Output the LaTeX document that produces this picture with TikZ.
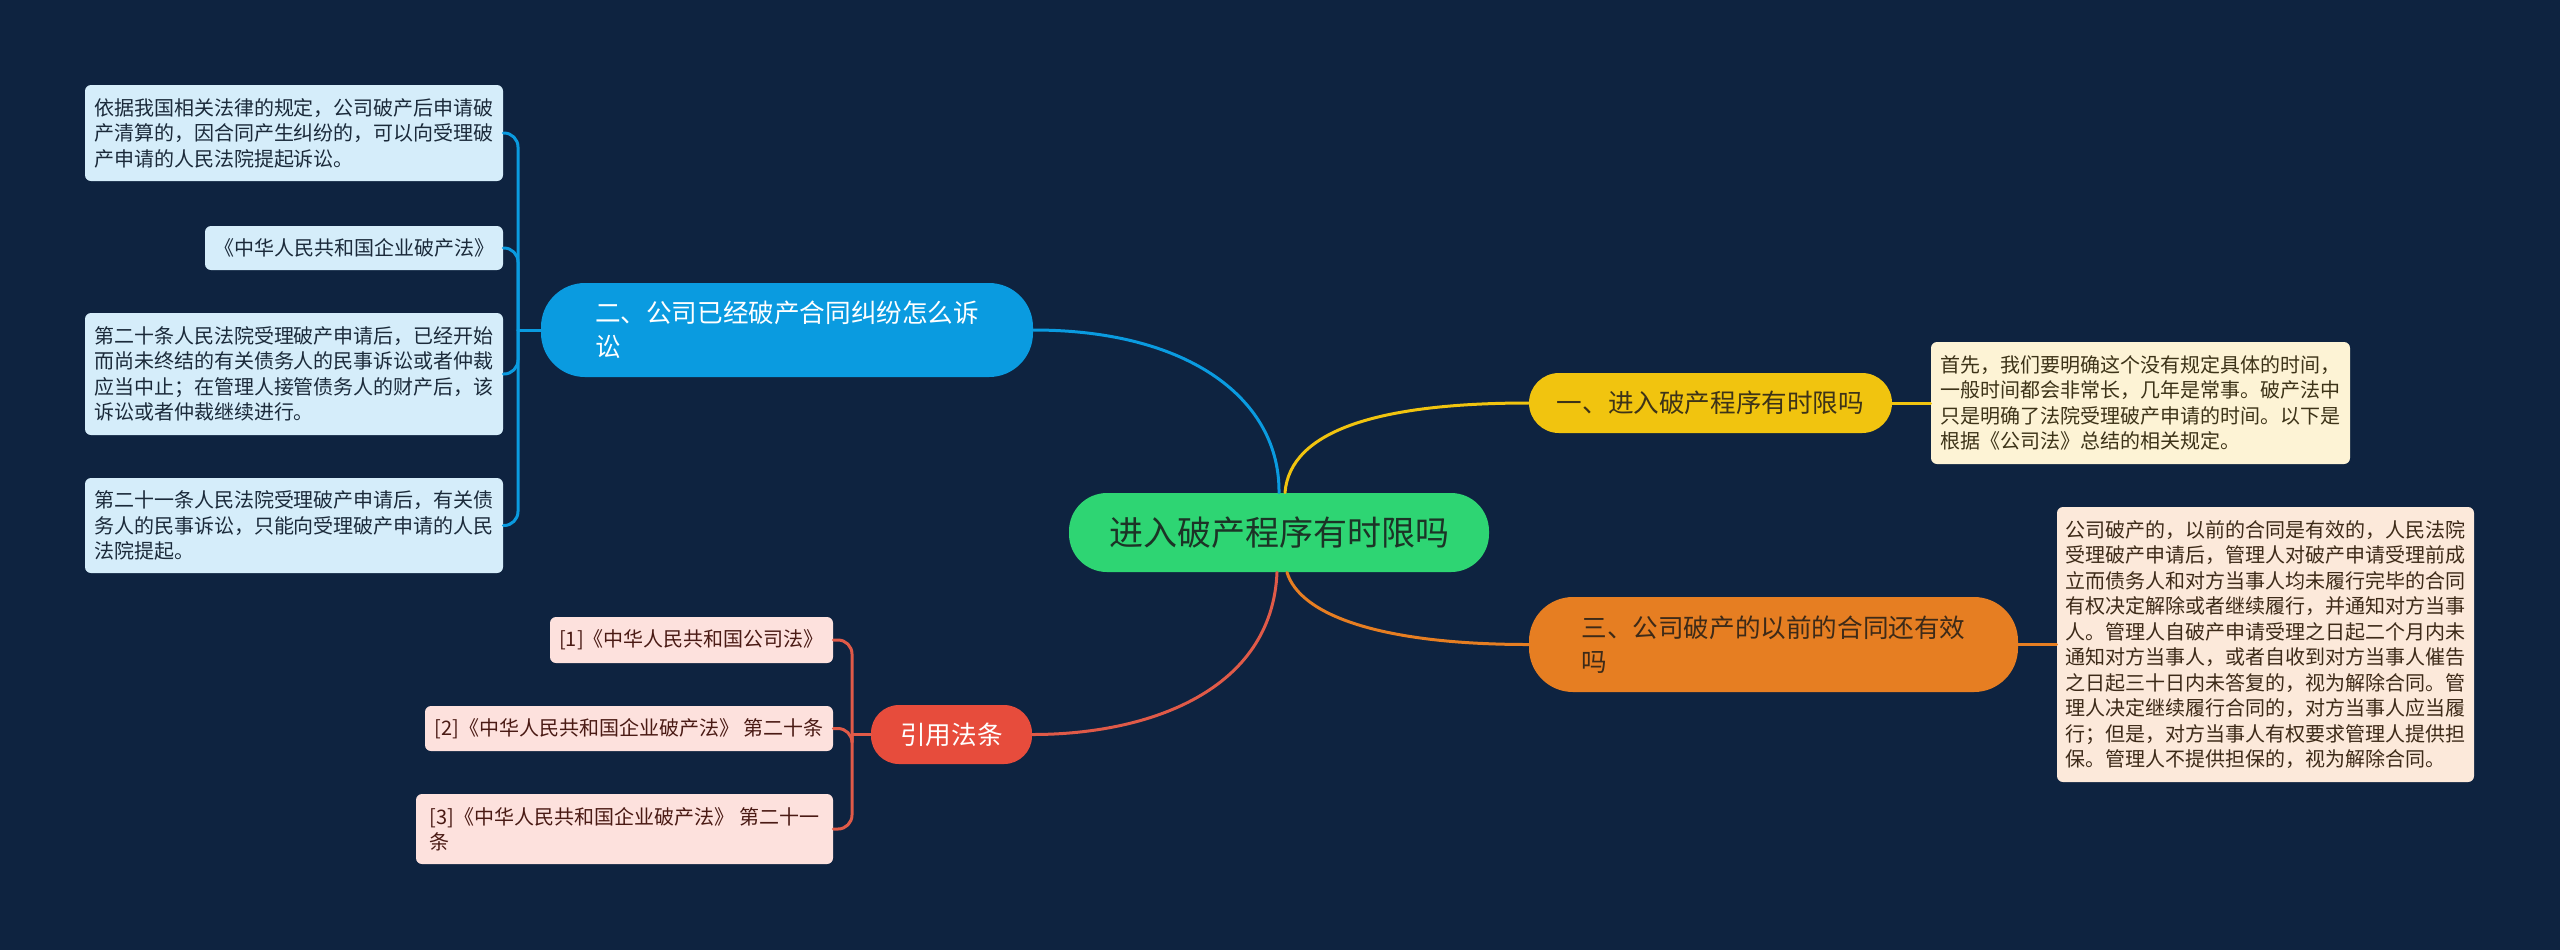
\documentclass[tikz,border=0pt]{standalone}
\usepackage{fontspec}
\newfontfamily\cjk{Noto Sans CJK SC}
\usetikzlibrary{calc}
\definecolor{bg}{HTML}{0E2340}
\definecolor{cgreen}{HTML}{2ED573}
\definecolor{ctext}{HTML}{1C3326}
\definecolor{bblue}{HTML}{0A9BE0}
\definecolor{lblue}{HTML}{D5EDFA}
\definecolor{tblue}{HTML}{1B2A3A}
\definecolor{byellow}{HTML}{F1C40F}
\definecolor{lyellow}{HTML}{FDF3D5}
\definecolor{tyellow}{HTML}{3D3318}
\definecolor{borange}{HTML}{E67E22}
\definecolor{lorange}{HTML}{FCE9DA}
\definecolor{torange}{HTML}{3D2A18}
\definecolor{bred}{HTML}{E74C3C}
\definecolor{lred}{HTML}{FDE1DD}
\definecolor{tred}{HTML}{4A1A14}
\definecolor{lnred}{HTML}{E05A48}
\begin{document}
\begin{tikzpicture}[x=0.5pt,y=-0.5pt,
  leafbox/.style={rounded corners=3pt, inner sep=0pt, align=left, font=\cjk\fontsize{10}{12.75}\selectfont},
  branchbox/.style={inner sep=0pt, align=left, font=\cjk\fontsize{12.8}{17}\selectfont},
  conn/.style={line width=1.5pt, line cap=round}
]
\fill[bg] (0,0) rectangle (2560,950);
\useasboundingbox (0,0) rectangle (2560,950);

% center
\node[inner sep=0pt, fill=cgreen, text=ctext, rounded corners=19pt, minimum width=210pt, minimum height=39.5pt, font=\cjk\fontsize{17}{20}\selectfont] (c) at (1279,532.5) {进入破产程序有时限吗};

% branch 1 (yellow)
\node[branchbox, fill=byellow, text=tyellow, rounded corners=15pt, minimum width=181.5pt, minimum height=30pt] (b1) at (1710.5,403) {一、进入破产程序有时限吗};
\node[leafbox, fill=lyellow, text=tyellow, minimum width=209.5pt, minimum height=61pt] (lf1) at (2140.5,403) {首先，我们要明确这个没有规定具体的时间，\\一般时间都会非常长，几年是常事。破产法中\\只是明确了法院受理破产申请的时间。以下是\\根据《公司法》总结的相关规定。};

% branch 3 (orange)
\node[branchbox, fill=borange, text=torange, rounded corners=22pt, minimum width=244.5pt, minimum height=47.5pt] (b3) at (1773.5,644.5) {三、公司破产的以前的合同还有效\\吗};
\node[leafbox, fill=lorange, text=torange, minimum width=208.5pt, minimum height=137.5pt] (lf3) at (2265.5,644.5) {公司破产的，以前的合同是有效的，人民法院\\受理破产申请后，管理人对破产申请受理前成\\立而债务人和对方当事人均未履行完毕的合同\\有权决定解除或者继续履行，并通知对方当事\\人。管理人自破产申请受理之日起二个月内未\\通知对方当事人，或者自收到对方当事人催告\\之日起三十日内未答复的，视为解除合同。管\\理人决定继续履行合同的，对方当事人应当履\\行；但是，对方当事人有权要求管理人提供担\\保。管理人不提供担保的，视为解除合同。};

% branch 2 (blue)
\node[branchbox, fill=bblue, text=white, rounded corners=22pt, minimum width=246pt, minimum height=47pt] (b2) at (787,330) {二、公司已经破产合同纠纷怎么诉\\讼};
\node[leafbox, fill=lblue, text=tblue, minimum width=209pt, minimum height=48pt] (l1) at (294,133) {依据我国相关法律的规定，公司破产后申请破\\产清算的，因合同产生纠纷的，可以向受理破\\产申请的人民法院提起诉讼。};
\node[leafbox, fill=lblue, text=tblue, minimum width=149pt, minimum height=22pt] (l2) at (354,248) {《中华人民共和国企业破产法》};
\node[leafbox, fill=lblue, text=tblue, minimum width=209pt, minimum height=61pt] (l3) at (294,374) {第二十条人民法院受理破产申请后，已经开始\\而尚未终结的有关债务人的民事诉讼或者仲裁\\应当中止；在管理人接管债务人的财产后，该\\诉讼或者仲裁继续进行。};
\node[leafbox, fill=lblue, text=tblue, minimum width=209pt, minimum height=47.5pt] (l4) at (294,525.5) {第二十一条人民法院受理破产申请后，有关债\\务人的民事诉讼，只能向受理破产申请的人民\\法院提起。};

% branch 4 (red)
\node[branchbox, fill=bred, text=white, rounded corners=14pt, minimum width=80.5pt, minimum height=29.5pt] (b4) at (951.5,734.5) {引用法条};
\node[leafbox, fill=lred, text=tred, minimum width=141.5pt, minimum height=23pt] (r1) at (691.5,640) {[1]《中华人民共和国公司法》};
\node[leafbox, fill=lred, text=tred, minimum width=204pt, minimum height=22.5pt] (r2) at (629,728.5) {[2]《中华人民共和国企业破产法》 第二十条};
\node[leafbox, fill=lred, text=tred, minimum width=208.5pt, minimum height=35pt] (r3) at (624.5,829) {[3]《中华人民共和国企业破产法》 第二十一\\条};

% main connectors
\draw[conn, bblue] (b2.east) .. controls (1190,330) and (1280,400) .. (c.north);
\draw[conn, byellow] ([xshift=3pt]c.north) .. controls (1290,430) and (1380,403) .. (b1.west);
\draw[conn, borange] ([xshift=4pt]c.south) .. controls (1300,615) and (1380,644.5) .. (b3.west);
\draw[conn, lnred] ([xshift=-1pt]c.south) .. controls (1272,690) and (1150,734.5) .. (b4.east);

% leaf connectors
\draw[conn, byellow] (b1.east) -- (lf1.west);
\draw[conn, borange] (b3.east) -- (lf3.west);

\coordinate (j2) at (518,330);
\draw[conn, bblue] (b2.west) -- (j2);
\foreach \n in {l1,l2,l3,l4}{
  \draw[conn, bblue, rounded corners=7pt] (j2) -- (j2 |- \n.east) -- (\n.east);
}
\coordinate (j4) at (852,734.5);
\draw[conn, lnred] (b4.west) -- (j4);
\foreach \n in {r1,r2,r3}{
  \draw[conn, lnred, rounded corners=7pt] (j4) -- (j4 |- \n.east) -- (\n.east);
}
\end{tikzpicture}
\end{document}
